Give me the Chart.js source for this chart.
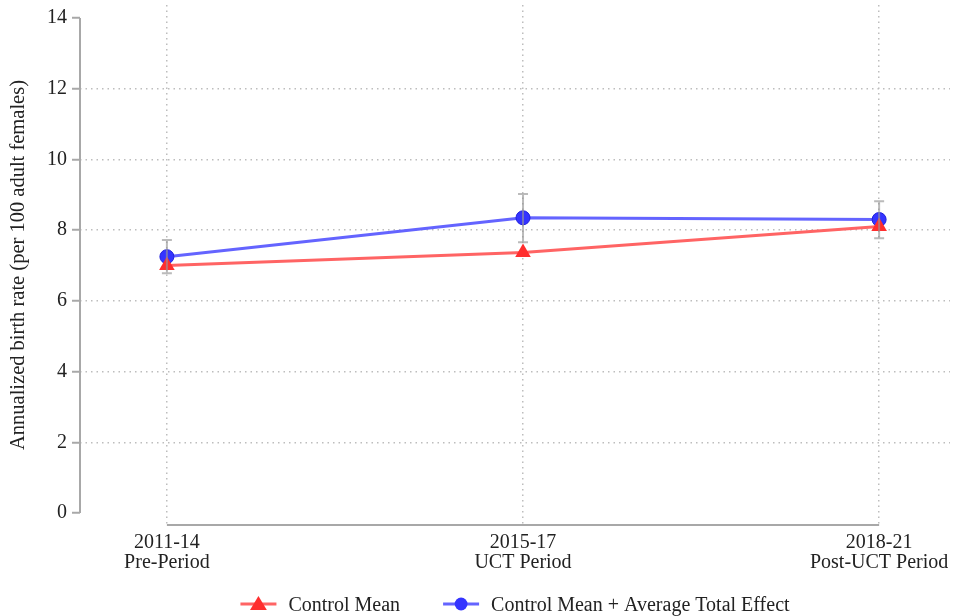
<!DOCTYPE html>
<html>
<head>
<meta charset="utf-8">
<script src="https://cdn.jsdelivr.net/npm/chart.js@4.4.1/dist/chart.umd.min.js"></script>
<style>
  html, body { margin: 0; padding: 0; background: #fff; }
  #wrap { width: 954px; height: 616px; }
</style>
</head>
<body>
<div id="wrap"><canvas id="myChart"></canvas></div>
<script>
// period positions and labels
const periods = [0, 1, 2];
const periodLabels = [
  ["2011-14", "Pre-Period"],
  ["2015-17", "UCT Period"],
  ["2018-21", "Post-UCT Period"],
];
const yTicks = [0, 2, 4, 6, 8, 10, 12, 14];

// series
const controlMean = [7.0, 7.37, 8.1];
const treatedMean = [7.25, 8.35, 8.3];
// confidence interval of the treated series
const treatedLow = [6.78, 7.66, 7.77];
const treatedHigh = [7.72, 9.02, 8.82];

const chart = document.getElementById("myChart");
const serif = "'Liberation Serif', 'Times New Roman', serif";
const axisGrey = "#a8a8a8";
const gridGrey = "#bdbdbd";

function drawMarker(ctx, shape, x, y, fill, size) {
  ctx.fillStyle = fill;
  ctx.beginPath();
  if (shape === "triangle") {
    ctx.moveTo(x, y - size);
    ctx.lineTo(x + size * 1.05, y + size * 0.75);
    ctx.lineTo(x - size * 1.05, y + size * 0.75);
    ctx.closePath();
  } else {
    ctx.arc(x, y, size * 0.8, 0, Math.PI * 2);
  }
  ctx.fill();
}

// axis lines, gray caps for the interval, and the legend underneath
const extras = {
  id: "extras",
  beforeDatasetsDraw(c) {
    const x = c.scales.x, y = c.scales.y, ctx = c.ctx;
    ctx.save();
    ctx.strokeStyle = axisGrey;
    ctx.lineWidth = 2;
    ctx.beginPath();
    ctx.moveTo(c.chartArea.left, y.getPixelForValue(yTicks[0]));
    ctx.lineTo(c.chartArea.left, y.getPixelForValue(yTicks[yTicks.length - 1]));
    ctx.moveTo(x.getPixelForValue(periods[0]), c.chartArea.bottom);
    ctx.lineTo(x.getPixelForValue(periods[periods.length - 1]), c.chartArea.bottom);
    ctx.stroke();
    ctx.restore();
  },
  afterDatasetsDraw(c) {
    const x = c.scales.x, y = c.scales.y, ctx = c.ctx;
    ctx.save();
    ctx.strokeStyle = "rgba(150,150,150,0.65)";
    ctx.lineWidth = 2;
    periods.forEach((p, i) => {
      const px = x.getPixelForValue(p);
      const lo = y.getPixelForValue(treatedLow[i]);
      const hi = y.getPixelForValue(treatedHigh[i]);
      ctx.beginPath();
      ctx.moveTo(px, lo);
      ctx.lineTo(px, hi);
      ctx.moveTo(px - 5, lo);
      ctx.lineTo(px + 5, lo);
      ctx.moveTo(px - 5, hi);
      ctx.lineTo(px + 5, hi);
      ctx.stroke();
    });
    ctx.restore();
  },
  afterDraw(c) {
    const ctx = c.ctx;
    const ds = c.data.datasets;
    const keyW = 36, gap = 12, itemGap = 43, yMid = 605;
    ctx.save();
    ctx.font = "20px " + serif;
    ctx.textBaseline = "middle";
    const widths = ds.map((d) => keyW + gap + ctx.measureText(d.label).width);
    const total = widths.reduce((a, b) => a + b, 0) + itemGap * (ds.length - 1);
    let left = (c.chartArea.left + c.chartArea.right) / 2 - total / 2;
    ds.forEach((d, i) => {
      ctx.strokeStyle = d.borderColor;
      ctx.lineWidth = 3;
      ctx.beginPath();
      ctx.moveTo(left, yMid - 1);
      ctx.lineTo(left + keyW, yMid - 1);
      ctx.stroke();
      drawMarker(ctx, d.pointStyle, left + keyW / 2, yMid - 1, d.backgroundColor, 8);
      ctx.fillStyle = "#222";
      ctx.fillText(d.label, left + keyW + gap, yMid + 1);
      left += widths[i] + itemGap;
    });
    ctx.restore();
  },
};

new Chart(chart, {
  type: "line",
  data: {
    datasets: [
      {
        label: "Control Mean",
        data: periods.map((p, i) => ({ x: p, y: controlMean[i] })),
        borderColor: "#ff6464",
        backgroundColor: "#ff2e2e",
        borderWidth: 3,
        pointStyle: "triangle",
        pointRadius: 9,
        pointBorderWidth: 0,
      },
      {
        label: "Control Mean + Average Total Effect",
        data: periods.map((p, i) => ({ x: p, y: treatedMean[i] })),
        borderColor: "#6464ff",
        backgroundColor: "#3434ff",
        borderWidth: 3,
        pointStyle: "circle",
        pointRadius: 7,
        pointBorderWidth: 1,
        pointBorderColor: "#2020dd",
      },
    ],
  },
  options: {
    responsive: true,
    maintainAspectRatio: false,
    animation: false,
    events: [],
    layout: { autoPadding: false, padding: { left: 0, top: 5, right: 4, bottom: 0 } },
    scales: {
      x: {
        type: "linear",
        min: -0.244,
        max: 2.199,
        afterBuildTicks: (s) => { s.ticks = periods.map((v) => ({ value: v })); },
        afterFit: (s) => {
          s.height = 91;
          s.paddingLeft = 0;
          s.paddingRight = 0;
        },
        ticks: {
          autoSkip: false,
          maxRotation: 0,
          padding: 8,
          color: "#222",
          font: { family: serif, size: 20, lineHeight: 1 },
          callback: (v) => periodLabels[v],
        },
        grid: {
          drawTicks: false,
          color: gridGrey,
          lineWidth: 1.5,
        },
        border: { display: false, dash: [1.5, 4] },
      },
      y: {
        type: "linear",
        min: -0.339,
        max: 14.368,
        afterBuildTicks: (s) => { s.ticks = yTicks.map((v) => ({ value: v })); },
        afterFit: (s) => {
          s.width = 80;
          s.paddingTop = 0;
          s.paddingBottom = 0;
        },
        ticks: {
          padding: 5,
          color: "#222",
          font: { family: serif, size: 20 },
        },
        grid: {
          tickLength: 8,
          tickColor: axisGrey,
          tickWidth: 2,
          tickBorderDash: [],
          lineWidth: 1.5,
          color: (ctx) => (ctx.tick && (ctx.tick.value === 0 || ctx.tick.value === 14) ? "rgba(0,0,0,0)" : gridGrey),
        },
        border: { display: false, dash: [1.5, 4] },
        title: {
          display: true,
          text: "Annualized birth rate (per 100 adult females)",
          color: "#222",
          padding: 8,
          font: { family: serif, size: 20.5, lineHeight: 1 },
        },
      },
    },
    plugins: {
      legend: { display: false },
      tooltip: { enabled: false },
    },
  },
  plugins: [extras],
});
</script>
</body>
</html>
